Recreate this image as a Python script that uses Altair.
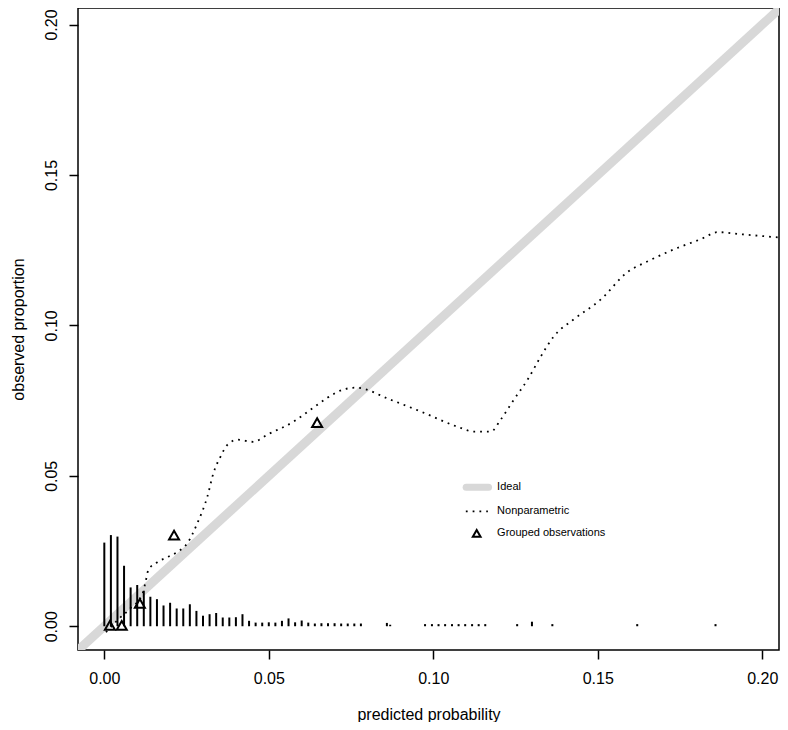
import altair as alt
import pandas as pd

# ---- data ----
ideal_x = [-0.02, 0.22]
ideal_y = [-0.02, 0.22]

curve_x = [0.0005, 0.004, 0.008, 0.0115, 0.0125, 0.0134, 0.0161, 0.0192, 0.0222, 0.0253,
           0.0283, 0.0313, 0.0332, 0.0353, 0.0374, 0.0405, 0.0453, 0.0496, 0.0575, 0.0636,
           0.0679, 0.0727, 0.0765, 0.087, 0.097, 0.1074, 0.1123, 0.1175, 0.1205, 0.1245,
           0.1287, 0.1327, 0.1366, 0.1427, 0.151, 0.159, 0.1652, 0.1732, 0.1814, 0.1865,
           0.1935, 0.2078]
curve_y = [-0.002, 0.002, 0.006, 0.0105, 0.0145, 0.0187, 0.0213, 0.023, 0.0247, 0.0277,
           0.0343, 0.043, 0.051, 0.0563, 0.0603, 0.062, 0.0613, 0.0637, 0.068, 0.0727,
           0.076, 0.0787, 0.0793, 0.0753, 0.071, 0.0663, 0.0647, 0.0647, 0.0687, 0.0753,
           0.082, 0.0897, 0.0963, 0.102, 0.1087, 0.1177, 0.1213, 0.1253, 0.1287, 0.131,
           0.1303, 0.129]

group_x = [0.0017, 0.0053, 0.0108, 0.0212, 0.0647]
group_y = [0.0003, 0.0003, 0.0076, 0.0303, 0.0677]

spike_x = [0.000, 0.002, 0.004, 0.006, 0.008, 0.010, 0.012, 0.014, 0.016, 0.018,
           0.020, 0.022, 0.024, 0.026, 0.028, 0.030, 0.032, 0.034, 0.036, 0.038,
           0.040, 0.042, 0.044, 0.046, 0.048, 0.050, 0.052, 0.054, 0.056, 0.058,
           0.060, 0.062, 0.064, 0.066, 0.068, 0.070, 0.072, 0.074, 0.076, 0.078,
           0.0859, 0.0869, 0.0975, 0.0996, 0.1016, 0.1036, 0.1057, 0.1077, 0.1097, 0.1118,
           0.1138, 0.1158, 0.1255, 0.1300, 0.1362, 0.1620, 0.1858]
spike_h = [0.0278, 0.0303, 0.0298, 0.0201, 0.0129, 0.0137, 0.0118, 0.0098, 0.0090, 0.0069,
           0.0078, 0.0059, 0.0059, 0.0073, 0.0051, 0.0035, 0.0040, 0.0044, 0.0029, 0.0029,
           0.0030, 0.0040, 0.0018, 0.0012, 0.0012, 0.0013, 0.0012, 0.0018, 0.0026, 0.0013,
           0.0019, 0.0012, 0.0009, 0.0010, 0.0010, 0.0010, 0.0009, 0.0009, 0.0009, 0.0009,
           0.0011, 0.0005, 0.0007, 0.0007, 0.0007, 0.0007, 0.0007, 0.0007, 0.0007, 0.0007,
           0.0007, 0.0007, 0.0007, 0.0015, 0.0007, 0.0007, 0.0007]

x_ticks = [0.00, 0.05, 0.10, 0.15, 0.20]
y_ticks = [0.00, 0.05, 0.10, 0.15, 0.20]

legend_labels = ["Ideal", "Nonparametric", "Grouped observations"]
legend_label_x = [0.1194, 0.1194, 0.1194]
legend_label_y = [0.0462, 0.0382, 0.0309]
legend_ideal_x = [0.1100, 0.1168]
legend_ideal_y = [0.0462, 0.0462]
legend_dot_x = [0.1099, 0.1166]
legend_dot_y = [0.0382, 0.0382]
legend_tri_x = [0.1132]
legend_tri_y = [0.0309]

GRAY = "#d8d8d8"

xs = alt.Scale(domain=[-0.008, 0.2051], nice=False, zero=False)
ys = alt.Scale(domain=[-0.0079, 0.2055], nice=False, zero=False)
xaxis = alt.Axis(values=x_ticks, format=".2f", title="predicted probability",
                 labelPadding=11, titlePadding=20, labelFlush=False)
yaxis = alt.Axis(values=y_ticks, format=".2f", title="observed proportion",
                 labelAngle=270, labelAlign="center", labelBaseline="bottom",
                 labelPadding=10, titlePadding=17, labelFlush=False)

X = alt.X("x:Q", scale=xs, axis=xaxis)
Y = alt.Y("y:Q", scale=ys, axis=yaxis)

ideal = alt.Chart(pd.DataFrame({"x": ideal_x, "y": ideal_y})).mark_line(
    color=GRAY, strokeWidth=9, clip=True).encode(x=X, y=Y)

spikes = alt.Chart(pd.DataFrame({"x": spike_x, "y": [0.0] * len(spike_x), "y2": spike_h})).mark_rule(
    color="black", strokeWidth=2).encode(x=X, y=Y, y2="y2:Q")

curve = alt.Chart(pd.DataFrame({"x": curve_x, "y": curve_y})).mark_line(
    color="black", strokeWidth=1.8, strokeDash=[1.8, 5], interpolate="monotone", clip=True
).encode(x=X, y=Y)

groups = alt.Chart(pd.DataFrame({"x": group_x, "y": group_y})).mark_point(
    shape="triangle-up", filled=False, color="black", strokeWidth=2, size=100, opacity=1
).encode(x=X, y=Y)

leg_ideal = alt.Chart(pd.DataFrame({"x": legend_ideal_x, "y": legend_ideal_y})).mark_line(
    color=GRAY, strokeWidth=7, strokeCap="round").encode(x=X, y=Y)
leg_dot = alt.Chart(pd.DataFrame({"x": legend_dot_x, "y": legend_dot_y})).mark_line(
    color="black", strokeWidth=1.8, strokeDash=[1.8, 5]).encode(x=X, y=Y)
leg_tri = alt.Chart(pd.DataFrame({"x": legend_tri_x, "y": legend_tri_y})).mark_point(
    shape="triangle-up", filled=False, color="black", strokeWidth=2, size=60, opacity=1
).encode(x=X, y=Y)
leg_text = alt.Chart(pd.DataFrame({"x": legend_label_x, "y": legend_label_y, "t": legend_labels})).mark_text(
    align="left", baseline="middle", fontSize=11, color="black").encode(x=X, y=Y, text="t:N")

chart = alt.layer(ideal, spikes, curve, groups, leg_ideal, leg_dot, leg_tri, leg_text).properties(
    width=701, height=642,
    autosize=alt.AutoSizeParams(type="none"),
    padding={"left": 70, "top": 0, "right": 1, "bottom": 72},
).configure(font="Liberation Sans").configure_view(
    stroke="black", strokeWidth=1.5
).configure_axis(
    domain=False, grid=False, tickColor="black", tickWidth=1.5, tickSize=9,
    labelColor="black", labelFontSize=16, titleColor="black", titleFontSize=16,
    titleFontWeight="normal"
)

chart.save("out.html", embed_options={"renderer": "svg", "actions": False})
